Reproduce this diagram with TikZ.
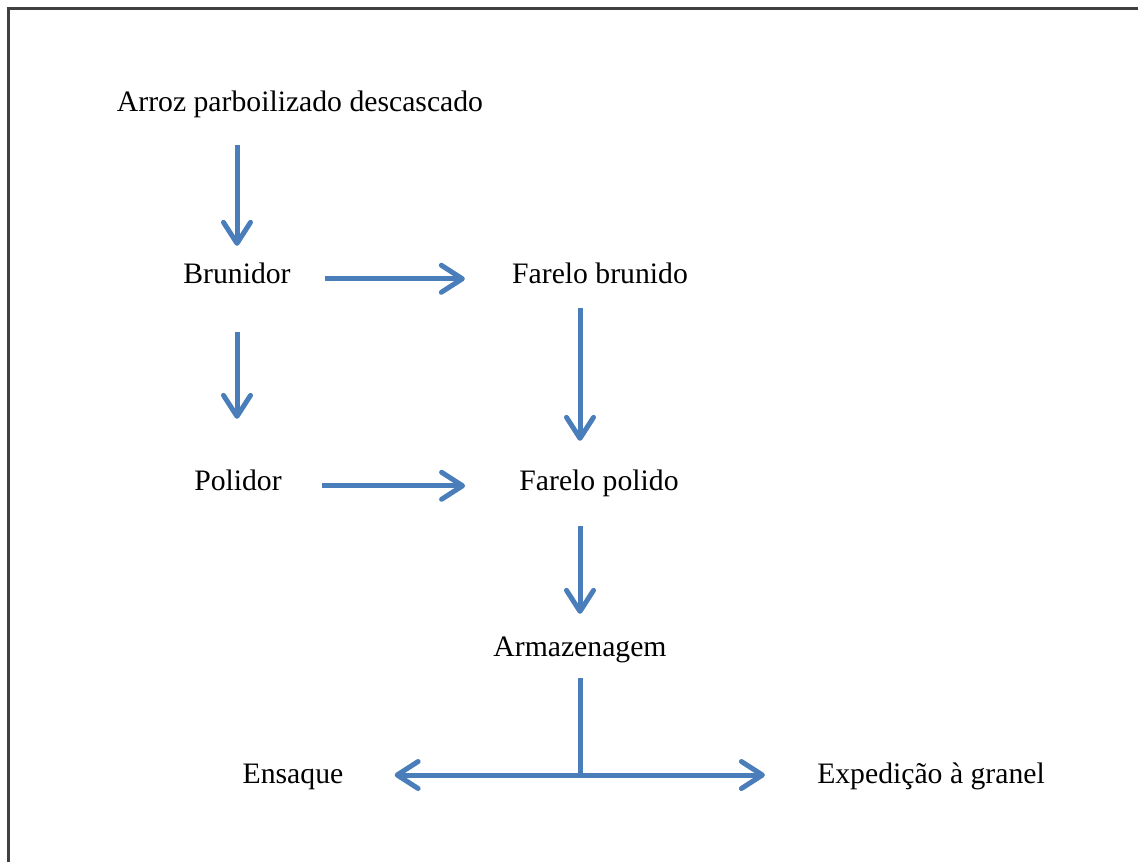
\documentclass[tikz,border=0pt]{standalone}
\usepackage{fontspec}
\setmainfont{Liberation Serif}
\usepackage{tikz}
\usetikzlibrary{arrows.meta}
\definecolor{flowblue}{RGB}{74,126,187}
\definecolor{framegray}{RGB}{64,64,64}
\tikzstyle{txt} = [inner sep=0pt, anchor=base, text height=0.7em, text depth=0.22em, font=\fontsize{16.9pt}{20pt}\selectfont]
\tikzstyle{arrow} = [draw=flowblue, line width=0.1cm, -{Straight Barb[length=4.2mm,width=5.4mm,line join=round,line cap=round]}]
\tikzstyle{plain} = [draw=flowblue, line width=0.1cm]

\begin{document}
\begin{tikzpicture}[x=0.02cm, y=-0.02cm]
  \useasboundingbox (0,0) rectangle (1138,862);
  \draw[framegray, line width=1.6pt] (8.5,862) -- (8.5,8.5) -- (1138,8.5);

  % nodes
  \node[txt] (arroz)   at (300,111) {Arroz parboilizado descascado};
  \node[txt] (brunid)  at (237,283) {Brunidor};
  \node[txt] (fbrunid) at (600,283) {Farelo brunido};
  \node[txt] (polid)   at (238,490) {Polidor};
  \node[txt] (fpolid)  at (599,490) {Farelo polido};
  \node[txt] (armaz)   at (580,656) {Armazenagem};
  \node[txt] (ensaque) at (293,783) {Ensaque};
  \node[txt] (exped)   at (931,783) {Expedição à granel};
  \coordinate (split) at (580,775);

  % arrows
  \draw[arrow, shorten <=0.6cm, shorten >=0.49cm] (arroz.south -| brunid) -- (brunid.north);
  \draw[arrow, shorten <=0.68cm, shorten >=0.94cm] (brunid.east) -- (brunid.east -| fbrunid.west);
  \draw[arrow, shorten <=0.9cm, shorten >=1.17cm] (brunid.south) -- (polid.north -| brunid);
  \draw[arrow, shorten <=0.42cm, shorten >=0.73cm] (fbrunid.south -| armaz) -- (fpolid.north -| armaz);
  \draw[arrow, shorten <=0.8cm, shorten >=1.08cm] (polid.east) -- (polid.east -| fpolid.west);
  \draw[arrow, shorten <=0.64cm, shorten >=0.59cm] (fpolid.south -| armaz) -- (armaz.north);
  \draw[plain, shorten <=0.36cm] (armaz.south) -- (split);
  \draw[arrow, shorten >=1.02cm] (split) -- (split -| ensaque.east);
  \draw[arrow, shorten >=1.04cm] (split) -- (split -| exped.west);
\end{tikzpicture}
\end{document}
